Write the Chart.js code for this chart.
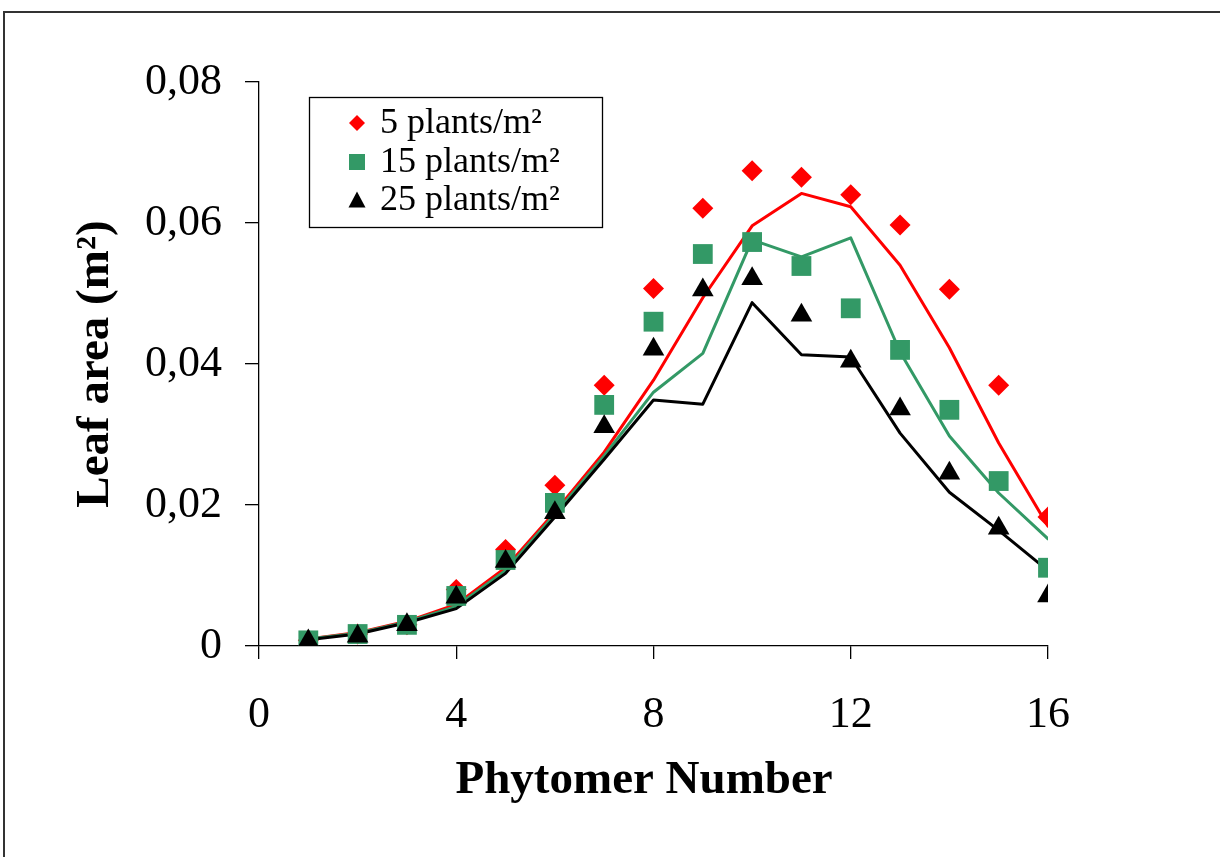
<!DOCTYPE html>
<html>
<head>
<meta charset="utf-8">
<script src="https://cdn.jsdelivr.net/npm/chart.js@4/dist/chart.umd.min.js"></script>
<style>
  html, body { margin: 0; padding: 0; background: #fff; overflow: hidden; }
  #wrap { position: relative; width: 1220px; height: 857px; }
  #frame { position: absolute; left: 3px; top: 11px; width: 1400px; height: 1000px; border: 2px solid #333; box-sizing: border-box; pointer-events: none; }
  canvas { position: absolute; left: 0; top: 0; }
</style>
</head>
<body>
<div id="wrap">
  <canvas id="c" width="1220" height="857"></canvas>
  <div id="frame"></div>
</div>
<script>
// ---- data ----
const phytomer = [1, 2, 3, 4, 5, 6, 7, 8, 9, 10, 11, 12, 13, 14, 15, 16];

// observed (markers)
const obs5  = [0.0008, 0.0017, 0.0030, 0.0080, 0.0137, 0.0228, 0.0370, 0.0507, 0.0621, 0.0674, 0.0665, 0.0640, 0.0597, 0.0506, 0.0370, 0.0183];
const obs15 = [0.0008, 0.0017, 0.0030, 0.0071, 0.0122, 0.0203, 0.0342, 0.0460, 0.0556, 0.0573, 0.0539, 0.0479, 0.0420, 0.0335, 0.0234, 0.0111];
const obs25 = [0.0007, 0.0014, 0.0030, 0.0069, 0.0120, 0.0189, 0.0311, 0.0421, 0.0505, 0.0521, 0.0469, 0.0404, 0.0336, 0.0245, 0.0167, 0.0071];

// simulated (lines)
const sim5  = [0.0010, 0.0019, 0.0035, 0.0059, 0.0111, 0.0190, 0.0275, 0.0377, 0.0494, 0.0596, 0.0642, 0.0623, 0.0540, 0.0423, 0.0288, 0.0170];
const sim15 = [0.0010, 0.0018, 0.0034, 0.0056, 0.0107, 0.0187, 0.0270, 0.0360, 0.0415, 0.0576, 0.0552, 0.0579, 0.0417, 0.0298, 0.0217, 0.0152];
const sim25 = [0.0009, 0.0017, 0.0033, 0.0053, 0.0103, 0.0183, 0.0265, 0.0349, 0.0343, 0.0487, 0.0413, 0.0410, 0.0302, 0.0218, 0.0164, 0.0107];

const seriesNames = ['5 plants/m²', '15 plants/m²', '25 plants/m²'];
const xTickLabels = ['0', '4', '8', '12', '16'];
const yTickLabels = ['0', '0,02', '0,04', '0,06', '0,08'];
const xTitle = 'Phytomer Number\u2009\u2009';
const yTitle = 'Leaf area (m²)';

// ---- styling ----
const RED = '#ff0000', GREEN = '#339966', BLACK = '#000000';
const toXY = (ys) => phytomer.map((x, i) => ({ x: x, y: ys[i] }));

const markerDs = (label, ys, color, style, radius, order) => ({
  type: 'scatter', label, data: toXY(ys), showLine: false,
  pointStyle: style, pointRadius: radius, pointHoverRadius: radius,
  backgroundColor: color, borderColor: color, borderWidth: 0, order,
  isMarker: true
});
const lineDs = (label, ys, color, order) => ({
  type: 'line', label, data: toXY(ys), showLine: true, fill: false,
  borderColor: color, backgroundColor: color, borderWidth: 3,
  pointRadius: 0, pointHoverRadius: 0, tension: 0, order,
  borderJoinStyle: 'round', borderCapStyle: 'round'
});

const legendPlugin = {
  id: 'insideLegend',
  afterDraw(chart) {
    const ctx = chart.ctx;
    const box = { l: 309, t: 97, r: 602, b: 227 };
    ctx.save();
    ctx.fillStyle = '#fff';
    ctx.fillRect(box.l, box.t, box.r - box.l, box.b - box.t);
    ctx.strokeStyle = '#000';
    ctx.lineWidth = 1.3;
    ctx.strokeRect(box.l + 0.5, box.t + 0.5, box.r - box.l, box.b - box.t);
    const markers = chart.data.datasets.filter(d => d.isMarker);
    const rows = [123, 162, 200];
    const mx = 357;
    ctx.font = '36px "Liberation Serif", "Times New Roman", serif';
    ctx.textBaseline = 'middle';
    ctx.textAlign = 'left';
    markers.forEach((d, i) => {
      const y = rows[i];
      ctx.fillStyle = d.backgroundColor;
      ctx.beginPath();
      if (d.pointStyle === 'rectRot') {
        const r = 8;
        ctx.moveTo(mx - r, y); ctx.lineTo(mx, y - r); ctx.lineTo(mx + r, y); ctx.lineTo(mx, y + r);
      } else if (d.pointStyle === 'rect') {
        const s = 8;
        ctx.rect(mx - s, y - s, 2 * s, 2 * s);
      } else {
        const w = 8.5, h = 15;
        ctx.moveTo(mx, y - h / 2 - 1); ctx.lineTo(mx + w, y + h / 2); ctx.lineTo(mx - w, y + h / 2);
      }
      ctx.closePath();
      ctx.fill();
      ctx.fillStyle = '#000';
      ctx.fillText(d.label, 380, y + 1);
    });
    ctx.restore();
  }
};

const tickFont = { family: '"Liberation Serif", "Times New Roman", serif', size: 44 };
const titleFont = { family: '"Liberation Serif", "Times New Roman", serif', size: 47, weight: 'bold', lineHeight: 1.2 };

new Chart(document.getElementById('c'), {
  type: 'scatter',
  data: {
    datasets: [
      markerDs(seriesNames[0], obs5, RED, 'rectRot', 10.5, 3),
      markerDs(seriesNames[1], obs15, GREEN, 'rect', 14, 2),
      markerDs(seriesNames[2], obs25, BLACK, 'triangle', 12.5, 1),
      lineDs('sim ' + seriesNames[0], sim5, RED, 7),
      lineDs('sim ' + seriesNames[1], sim15, GREEN, 6),
      lineDs('sim ' + seriesNames[2], sim25, BLACK, 5)
    ]
  },
  options: {
    responsive: false,
    devicePixelRatio: 1,
    animation: false,
    layout: { padding: { left: 0, top: 82, right: 172, bottom: 0 } },
    plugins: { legend: { display: false }, tooltip: { enabled: false }, title: { display: false } },
    scales: {
      x: {
        type: 'linear', position: 'bottom', min: 0, max: 16,
        ticks: { stepSize: 4, color: '#000', font: tickFont, padding: 30, maxRotation: 0,
                 callback: (v, i) => xTickLabels[i] },
        grid: { display: true, drawOnChartArea: false, drawTicks: true, tickLength: 13, color: '#000', lineWidth: 1.3 },
        border: { display: true, color: '#000', width: 1.3 },
        title: { display: true, text: xTitle, color: '#000', font: titleFont, padding: { top: 0, bottom: 48 } },
        afterFit: (s) => { s.height = 211; }
      },
      y: {
        type: 'linear', position: 'left', min: 0, max: 0.08,
        ticks: { stepSize: 0.02, color: '#000', font: tickFont, padding: 23,
                 callback: (v, i) => yTickLabels[i] },
        grid: { display: true, drawOnChartArea: false, drawTicks: true, tickLength: 14, color: '#000', lineWidth: 1.3 },
        border: { display: true, color: '#000', width: 1.3 },
        title: { display: true, text: yTitle, color: '#000', font: titleFont, padding: { top: 68, bottom: 0 } },
        afterFit: (s) => { s.width = 259; }
      }
    }
  },
  plugins: [legendPlugin]
});
</script>
</body>
</html>
